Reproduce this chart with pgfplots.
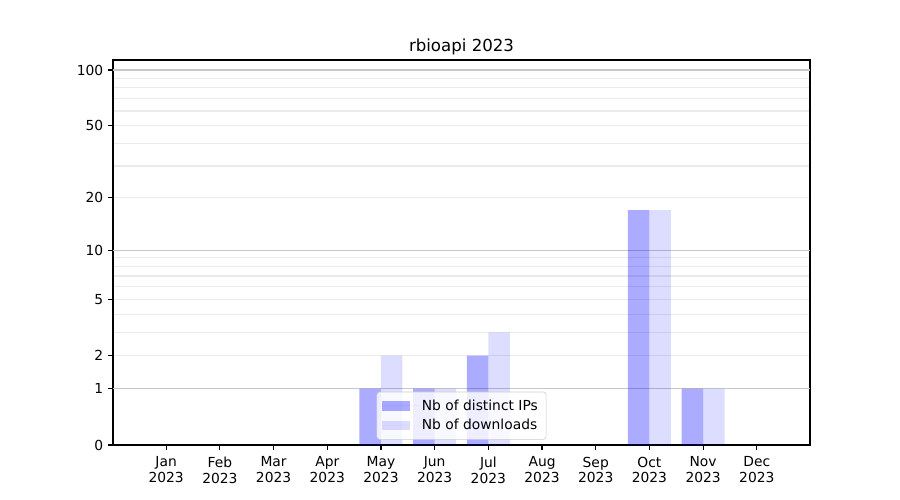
\documentclass[border=0pt]{standalone}
\usepackage{fontspec}
\setmainfont{DejaVu Sans}
\usepackage{pgfplots}
\usepackage{pgfplotstable}
\pgfplotsset{compat=1.18}
\pgfplotstableread{
x ips dl
0 0 0
1 0 0
2 0 0
3 0 0
4 1 2
5 1 1
6 2 3
7 0 0
8 0 0
9 17 17
10 1 1
11 0 0
}\datatable
\begin{document}
\begin{tikzpicture}
\path[use as bounding box] (0,0) rectangle (9in,5in);
\begin{axis}[
  at={(1.13in,0.55in)}, anchor=south west,
  scale only axis, width=6.97in, height=3.85in,
  xmin=-0.99, xmax=11.99,
  ymin=0, ymax=2.0577,
  axis line style={line width=0.8pt},
  every tick/.style={line width=0.8pt, black},
  tick align=outside, major tick length=3.5pt, minor tick length=0pt,
  xtick pos=bottom, ytick pos=left,
  /pgf/number format/assume math mode=true,
  tick label style={font=\fontsize{10}{11.5}\selectfont},
  xtick={0,...,11},
  xticklabels={Jan\\2023,Feb\\2023,Mar\\2023,Apr\\2023,May\\2023,Jun\\2023,Jul\\2023,Aug\\2023,Sep\\2023,Oct\\2023,Nov\\2023,Dec\\2023},
  xticklabel style={align=center, yshift=-1.5pt},
  ytick={0,0.30103,0.47712,0.77815,1.04139,1.32222,1.70757,2.00432},
  yticklabels={0,1,2,5,10,20,50,100},
  minor ytick={0.47712,0.60206,0.69897,0.77815,0.84510,0.90309,0.95424,1,1.32222,1.49136,1.61278,1.70757,1.78533,1.85126,1.90849,1.95904},
  yminorgrids=true,
  minor grid style={line width=0.8pt, black!8},
  extra y ticks={0.30103,1.04139,2.00432},
  extra y tick labels={},
  extra y tick style={ymajorgrids=true, major tick length=0pt, major grid style={line width=0.8pt, black!22}},
  title={rbioapi 2023},
  title style={font=\fontsize{12}{14}\selectfont, yshift=-6pt},
  legend style={at={(0.5,0.014)}, anchor=south, draw=black!20, rounded corners=2pt,
    fill=white, fill opacity=0.8, text opacity=1, font=\fontsize{10}{12}\selectfont,
    row sep=1pt, inner xsep=4pt, inner ysep=3.5pt},
  legend cell align=left,
  legend image code/.code={\fill[#1, sharp corners] (0pt,-3.5pt) rectangle (20pt,3.5pt); \path (0pt,0pt) -- (26.5pt,0pt);},
]
\addplot[ybar, bar width=0.4, bar shift=-0.2, fill=blue, fill opacity=0.33, draw=none]
  table[x=x, y expr={log10(\thisrow{ips}+1)}] {\datatable};
\addlegendentry{Nb of distinct IPs}
\addplot[ybar, bar width=0.4, bar shift=0.2, fill=blue, fill opacity=0.135, draw=none]
  table[x=x, y expr={log10(\thisrow{dl}+1)}] {\datatable};
\addlegendentry{Nb of downloads}
\end{axis}
\end{tikzpicture}
\end{document}
